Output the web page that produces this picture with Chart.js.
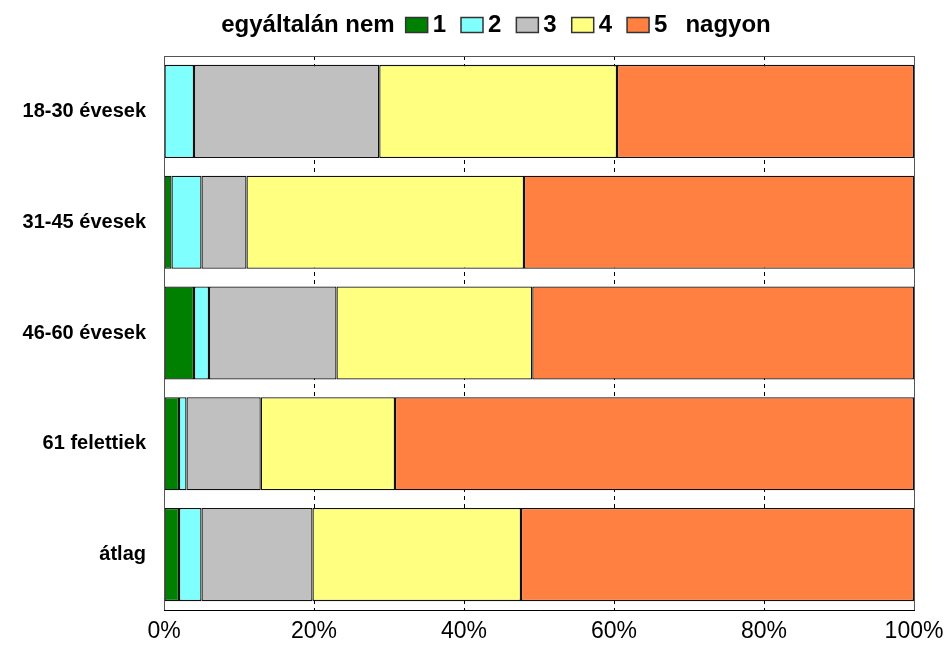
<!DOCTYPE html>
<html>
<head>
<meta charset="utf-8">
<script src="https://cdn.jsdelivr.net/npm/chart.js@4/dist/chart.umd.min.js"></script>
<style>
  html, body { margin: 0; padding: 0; background: #fff; }
  #wrap { width: 949px; height: 648px; }
</style>
</head>
<body>
<div id="wrap"><canvas id="chart" width="949" height="648"></canvas></div>
<script>
// categories and series (percent of answers)
const groups = ["18-30 évesek", "31-45 évesek", "46-60 évesek", "61 felettiek", "átlag"];
const seriesNames = ["1", "2", "3", "4", "5"];
const s1 = [0, 1.0, 4.0, 2.0, 2.0];
const s2 = [4.0, 4.0, 2.0, 1.0, 3.0];
const s3 = [24.7, 6.0, 17.0, 9.9, 14.8];
const s4 = [31.7, 37.0, 26.1, 17.9, 27.8];
const s5 = [39.6, 52.0, 50.9, 69.2, 52.4];
const xTicks = [0, 20, 40, 60, 80, 100];
const legendLeft = "egyáltalán nem";
const legendRight = "nagyon";

const colors = ["#008000", "#80FFFF", "#C0C0C0", "#FFFF80", "#FF8040"];
const FONT = 'Arial, "Liberation Sans", sans-serif';

// legend drawn by hand: "egyáltalán nem [1] [2] [3] [4] [5] nagyon"
const sideLegend = {
  id: "sideLegend",
  afterDraw(chart) {
    const ctx = chart.ctx;
    ctx.save();
    ctx.font = "bold 24px " + FONT;
    ctx.textBaseline = "middle";
    ctx.fillStyle = "#000";
    const boxW = 22, boxH = 15, gapBox = 5, gapItem = 15, gapSide = 11, gapRight = 18;
    let total = ctx.measureText(legendLeft).width + gapSide + ctx.measureText(legendRight).width + gapRight;
    chart.data.datasets.forEach((ds, i) => {
      total += boxW + gapBox + ctx.measureText(ds.label).width;
      if (i < chart.data.datasets.length - 1) total += gapItem;
    });
    let x = 496 - total / 2;
    const y = 25;
    ctx.fillText(legendLeft, x, y);
    x += ctx.measureText(legendLeft).width + gapSide;
    chart.data.datasets.forEach((ds, i) => {
      ctx.fillStyle = ds.backgroundColor;
      ctx.fillRect(x, y - boxH / 2, boxW, boxH);
      ctx.lineWidth = 1.5;
      ctx.strokeStyle = "#333";
      ctx.strokeRect(x, y - boxH / 2, boxW, boxH);
      x += boxW + gapBox;
      ctx.fillStyle = "#000";
      ctx.fillText(ds.label, x, y);
      x += ctx.measureText(ds.label).width;
      if (i < chart.data.datasets.length - 1) x += gapItem;
    });
    x += gapRight;
    ctx.fillText(legendRight, x, y);
    ctx.restore();
  }
};

// frame around the plot area
const plotFrame = {
  id: "plotFrame",
  afterDraw(chart) {
    const a = chart.chartArea;
    const ctx = chart.ctx;
    ctx.save();
    ctx.strokeStyle = "#555";
    ctx.lineWidth = 1;
    ctx.strokeRect(a.left + 0.5, a.top + 0.5, a.right - a.left, a.bottom - a.top);
    ctx.strokeStyle = "#000";
    ctx.beginPath();
    ctx.moveTo(a.left, a.bottom + 0.5);
    ctx.lineTo(a.right + 1, a.bottom + 0.5);
    ctx.stroke();
    ctx.restore();
  }
};

const seriesData = [s1, s2, s3, s4, s5];

new Chart(document.getElementById("chart"), {
  type: "bar",
  data: {
    labels: groups,
    datasets: seriesData.map((d, i) => ({
      label: seriesNames[i],
      data: d,
      backgroundColor: colors[i],
      borderColor: "#111",
      borderWidth: 1.3,
      borderSkipped: false,
      categoryPercentage: 1,
      barPercentage: 0.84,
    })),
  },
  options: {
    indexAxis: "y",
    responsive: false,
    animation: false,
    layout: { padding: { top: 56, right: 35, left: 0, bottom: 0 } },
    plugins: {
      legend: { display: false },
      tooltip: { enabled: false },
    },
    scales: {
      x: {
        stacked: true,
        min: 0,
        max: 100,
        afterBuildTicks: (scale) => {
          scale.ticks = xTicks.map((v) => ({ value: v }));
        },
        afterFit: (scale) => {
          scale.height = 38;
          scale.paddingLeft = 0;
          scale.paddingRight = 0;
        },
        ticks: {
          callback: (v) => v + "%",
          color: "#000",
          padding: 8,
          maxRotation: 0,
          font: { family: FONT, size: 23 },
        },
        grid: { color: "#000", lineWidth: 1, drawTicks: false },
        border: { display: true, color: "#000", dash: [4, 4] },
      },
      y: {
        stacked: true,
        afterFit: (scale) => { scale.width = 164; },
        ticks: {
          color: "#000",
          padding: 18,
          font: { family: FONT, size: 20, weight: "bold" },
        },
        grid: { display: false, drawTicks: false },
        border: { display: true, color: "#555" },
      },
    },
  },
  plugins: [sideLegend, plotFrame],
});
</script>
</body>
</html>
